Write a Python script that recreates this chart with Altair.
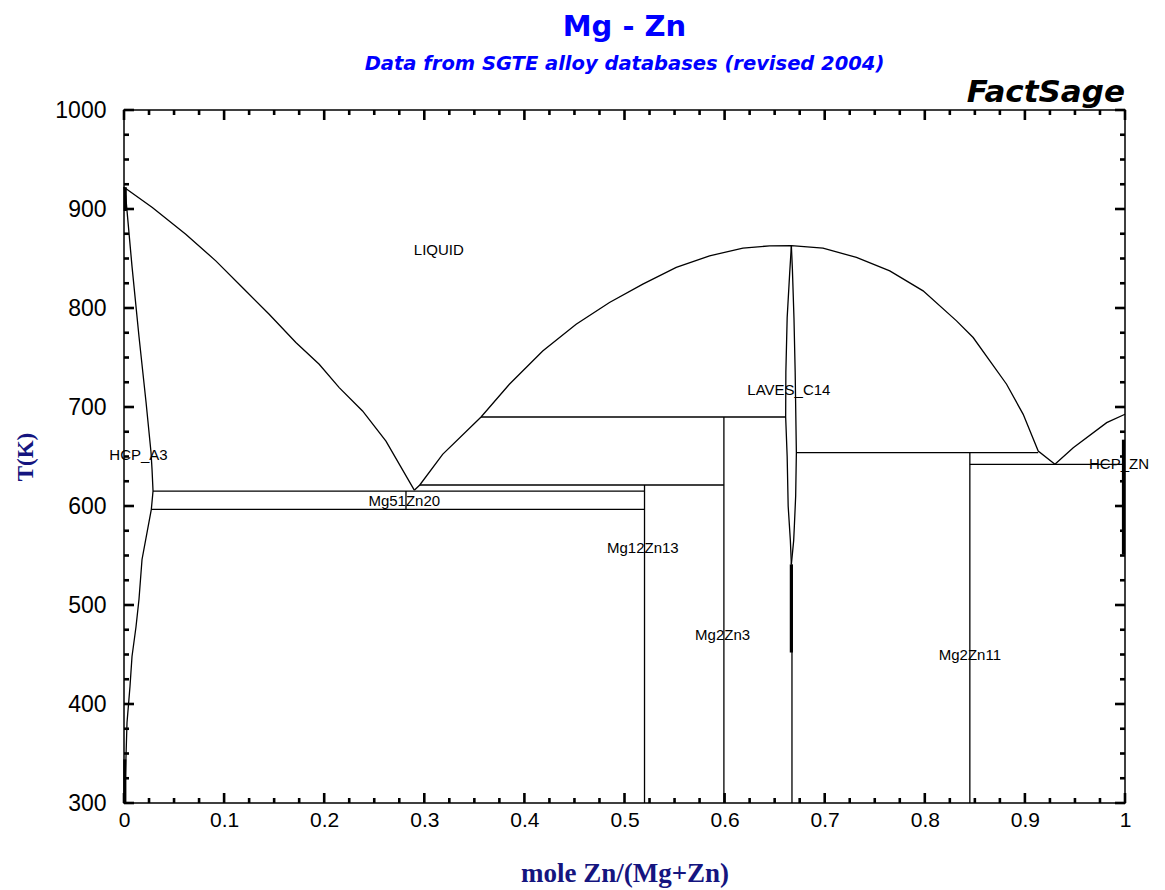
import altair as alt
import pandas as pd

# ---------------- data ----------------
# Liquidus, Mg-rich side (x = mole Zn/(Mg+Zn), T in K)
liq_mg_x = [0.0, 0.0283, 0.0617, 0.0917, 0.1183, 0.145, 0.1717, 0.195, 0.215, 0.2383, 0.2617, 0.29]
liq_mg_T = [922.0, 901.6, 874.6, 847.6, 820.7, 793.7, 765.1, 743.2, 719.6, 696.0, 665.6, 616.0]

# Liquidus from the Mg-rich eutectic over the LAVES_C14 maximum to the Zn-rich eutectic
liq_mid_x = [0.29, 0.2955, 0.3183, 0.3567, 0.385, 0.4183, 0.4517, 0.485, 0.5183, 0.5517, 0.585,
             0.6183, 0.645, 0.6667, 0.6983, 0.7317, 0.765, 0.7983, 0.8317, 0.8483, 0.865,
             0.8817, 0.8983, 0.9133, 0.93]
liq_mid_T = [616.0, 621.2, 652.2, 689.9, 723.0, 756.6, 783.6, 805.6, 824.1, 841.0, 852.7,
             860.5, 862.8, 863.0, 860.5, 851.1, 837.5, 817.3, 787.0, 770.2, 746.5,
             723.0, 692.6, 655.5, 642.1]

# Liquidus, Zn-rich side
liq_zn_x = [0.93, 0.9483, 0.9817, 1.0]
liq_zn_T = [642.1, 658.9, 684.2, 692.7]

# HCP_A3 solidus + solvus
hcp_a3_x = [0.0, 0.0017, 0.008, 0.015, 0.022, 0.027, 0.028, 0.029, 0.0273, 0.018, 0.015,
            0.012, 0.008, 0.006, 0.003, 0.002, 0.0005]
hcp_a3_T = [922.0, 913.0, 842.0, 771.0, 705.0, 654.0, 637.0, 615.1, 596.6, 546.0, 506.0,
            478.0, 448.0, 418.0, 381.0, 347.0, 300.0]

# LAVES_C14 homogeneity range
laves_left_x = [0.6667, 0.665, 0.6625, 0.6612, 0.661, 0.6625, 0.6635, 0.6657, 0.6667]
laves_left_T = [862.8, 835.0, 790.0, 735.0, 690.0, 650.0, 600.0, 565.0, 541.0]
laves_right_x = [0.6667, 0.6677, 0.6693, 0.6705, 0.6717, 0.671, 0.6697, 0.669, 0.6667]
laves_right_T = [862.8, 840.0, 790.0, 735.0, 654.0, 610.0, 580.0, 565.0, 541.0]

# Invariant (horizontal) lines: x_start, x_end, T
inv_x1 = [0.3567, 0.2955, 0.029, 0.0273, 0.6717, 0.845]
inv_x2 = [0.6612, 0.5993, 0.52, 0.52, 0.9133, 1.0]
inv_T = [689.9, 621.2, 615.1, 596.6, 654.0, 642.1]

# Compound (vertical) lines: x, T_top, T_bottom
cmp_x = [0.2817, 0.52, 0.5993, 0.845, 0.6673]
cmp_T1 = [615.1, 621.2, 689.9, 654.0, 541.0]
cmp_T2 = [596.6, 300.0, 300.0, 300.0, 300.0]

# Heavy (narrow) phase fields: x, T_top, T_bottom
thick_x = [0.0012, 0.0008, 0.6667, 0.9985]
thick_T1 = [922.0, 344.0, 541.0, 667.0]
thick_T2 = [898.0, 300.0, 452.0, 551.0]

# Phase labels
lab_text = ["LIQUID", "HCP_A3", "Mg51Zn20", "Mg12Zn13", "Mg2Zn3", "LAVES_C14", "Mg2Zn11", "HCP_ZN"]
lab_x = [0.3145, 0.0145, 0.280, 0.5183, 0.598, 0.6642, 0.845, 0.994]
lab_T = [858.4, 651.2, 605.2, 557.1, 469.2, 716.9, 449.0, 642.0]

# Axis ticks
x_major = [0.0, 0.1, 0.2, 0.3, 0.4, 0.5, 0.6, 0.7, 0.8, 0.9, 1.0]
x_minor = [0.025, 0.05, 0.075, 0.125, 0.15, 0.175, 0.225, 0.25, 0.275, 0.325, 0.35, 0.375,
           0.425, 0.45, 0.475, 0.525, 0.55, 0.575, 0.625, 0.65, 0.675, 0.725, 0.75, 0.775,
           0.825, 0.85, 0.875, 0.925, 0.95, 0.975]
y_major = [300, 400, 500, 600, 700, 800, 900, 1000]
y_minor = [325, 350, 375, 425, 450, 475, 525, 550, 575, 625, 650, 675, 725, 750, 775,
           825, 850, 875, 925, 950, 975]

X_DOM = [0.0, 1.0]
T_DOM = [300.0, 1000.0]

W, H = 1001, 693
NAVY = "#15157f"
MAJOR_PX, MINOR_PX = 10, 5

# ---------------- build tables ----------------
curves = {
    "liq_mg": (liq_mg_x, liq_mg_T),
    "liq_mid": (liq_mid_x, liq_mid_T),
    "liq_zn": (liq_zn_x, liq_zn_T),
    "hcp_a3": (hcp_a3_x, hcp_a3_T),
    "laves_l": (laves_left_x, laves_left_T),
    "laves_r": (laves_right_x, laves_right_T),
}
rows = []
for name, (xs_, ts_) in curves.items():
    for i, (a, b) in enumerate(zip(xs_, ts_)):
        rows.append({"curve": name, "i": i, "x": a, "T": b})
curve_df = pd.DataFrame(rows)

# every straight piece (invariants, compounds, frame ticks) in one segment table
t_per_px = (T_DOM[1] - T_DOM[0]) / H
x_per_px = (X_DOM[1] - X_DOM[0]) / W
seg_rows = []
for a, b, t in zip(inv_x1, inv_x2, inv_T):
    seg_rows.append({"kind": "line", "x": a, "x2": b, "T": t, "T2": t})
for a, t1, t2 in zip(cmp_x, cmp_T1, cmp_T2):
    seg_rows.append({"kind": "line", "x": a, "x2": a, "T": t1, "T2": t2})
for a, t1, t2 in zip(thick_x, thick_T1, thick_T2):
    seg_rows.append({"kind": "heavy", "x": a, "x2": a, "T": t1, "T2": t2})
for vals, px in ((x_major, MAJOR_PX), (x_minor, MINOR_PX)):
    for v in vals:
        seg_rows.append({"kind": "tick", "x": v, "x2": v, "T": T_DOM[0], "T2": T_DOM[0] + px * t_per_px})
        seg_rows.append({"kind": "tick", "x": v, "x2": v, "T": T_DOM[1], "T2": T_DOM[1] - px * t_per_px})
for vals, px in ((y_major, MAJOR_PX), (y_minor, MINOR_PX)):
    for v in vals:
        seg_rows.append({"kind": "tick", "x": X_DOM[0], "x2": X_DOM[0] + px * x_per_px, "T": v, "T2": v})
        seg_rows.append({"kind": "tick", "x": X_DOM[1], "x2": X_DOM[1] - px * x_per_px, "T": v, "T2": v})
seg_df = pd.DataFrame(seg_rows)

lab_df = pd.DataFrame({"label": lab_text, "x": lab_x, "T": lab_T})

xs = alt.Scale(domain=X_DOM, nice=False, zero=False)
ys = alt.Scale(domain=T_DOM, nice=False, zero=False)

x_axis = alt.Axis(
    values=x_major, format="~g", ticks=False, tickSize=0, domain=False, grid=False,
    labelFont="Liberation Sans", labelFontSize=21, labelPadding=6, labelFlush=False,
    labelColor="black",
    title="mole Zn/(Mg+Zn)", titleFont="Liberation Serif", titleFontSize=27,
    titleFontWeight="bold", titleColor=NAVY, titleX=W / 2, titleY=70,
    titleAlign="center", titleBaseline="middle",
)
y_axis = alt.Axis(
    values=y_major, format="d", ticks=False, tickSize=0, domain=False, grid=False,
    labelFont="Liberation Sans", labelFontSize=23, labelPadding=18, labelFlush=False,
    labelColor="black",
    title="T(K)", titleFont="Liberation Serif", titleFontSize=23,
    titleFontWeight="bold", titleColor=NAVY, titleX=-99, titleY=H / 2,
    titleAngle=270, titleAlign="center", titleBaseline="middle",
)

X = alt.X("x:Q", scale=xs, axis=x_axis)
Y = alt.Y("T:Q", scale=ys, axis=y_axis)

lines = alt.Chart(curve_df).mark_line(color="black", strokeWidth=1.3).encode(
    x=X, y=Y, detail="curve:N", order="i:Q"
)
segs = alt.Chart(seg_df).transform_calculate(
    sw="datum.kind == 'heavy' ? 3.2 : (datum.kind == 'tick' ? 2.6 : 1.3)"
).mark_rule(color="black").encode(
    x=X, x2="x2:Q", y=Y, y2="T2:Q",
    strokeWidth=alt.StrokeWidth("sw:Q", scale=None, legend=None),
)
labels = alt.Chart(lab_df).mark_text(
    font="Liberation Sans", fontSize=15, color="black", align="center", baseline="middle"
).encode(x=X, y=Y, text="label:N")

title = alt.Chart(pd.DataFrame({"t": ["Mg - Zn"]})).mark_text(
    font="DejaVu Sans", fontSize=29, fontWeight="bold", color="#0000ff",
    align="center", baseline="alphabetic"
).encode(text="t:N", x=alt.value(W / 2), y=alt.value(-74))
subtitle = alt.Chart(pd.DataFrame({"t": ["Data from SGTE alloy databases (revised 2004)"]})).mark_text(
    font="DejaVu Sans", fontSize=19.5, fontWeight="bold", fontStyle="italic", color="#0000ff",
    align="center", baseline="alphabetic"
).encode(text="t:N", x=alt.value(W / 2), y=alt.value(-40))
brand = alt.Chart(pd.DataFrame({"t": ["FactSage"]})).mark_text(
    font="DejaVu Sans", fontSize=31, fontWeight="bold", fontStyle="italic", color="black",
    align="right", baseline="alphabetic"
).encode(text="t:N", x=alt.value(W), y=alt.value(-8))

chart = alt.layer(
    lines, segs, labels, title, subtitle, brand,
).properties(
    width=W, height=H,
    autosize=alt.AutoSizeParams(type="none"),
    padding={"left": 124, "top": 110, "right": 40, "bottom": 87},
    background="white",
).configure_view(stroke="black", strokeWidth=1.5)

chart.save("out.html", embed_options={"renderer": "svg", "actions": False})
